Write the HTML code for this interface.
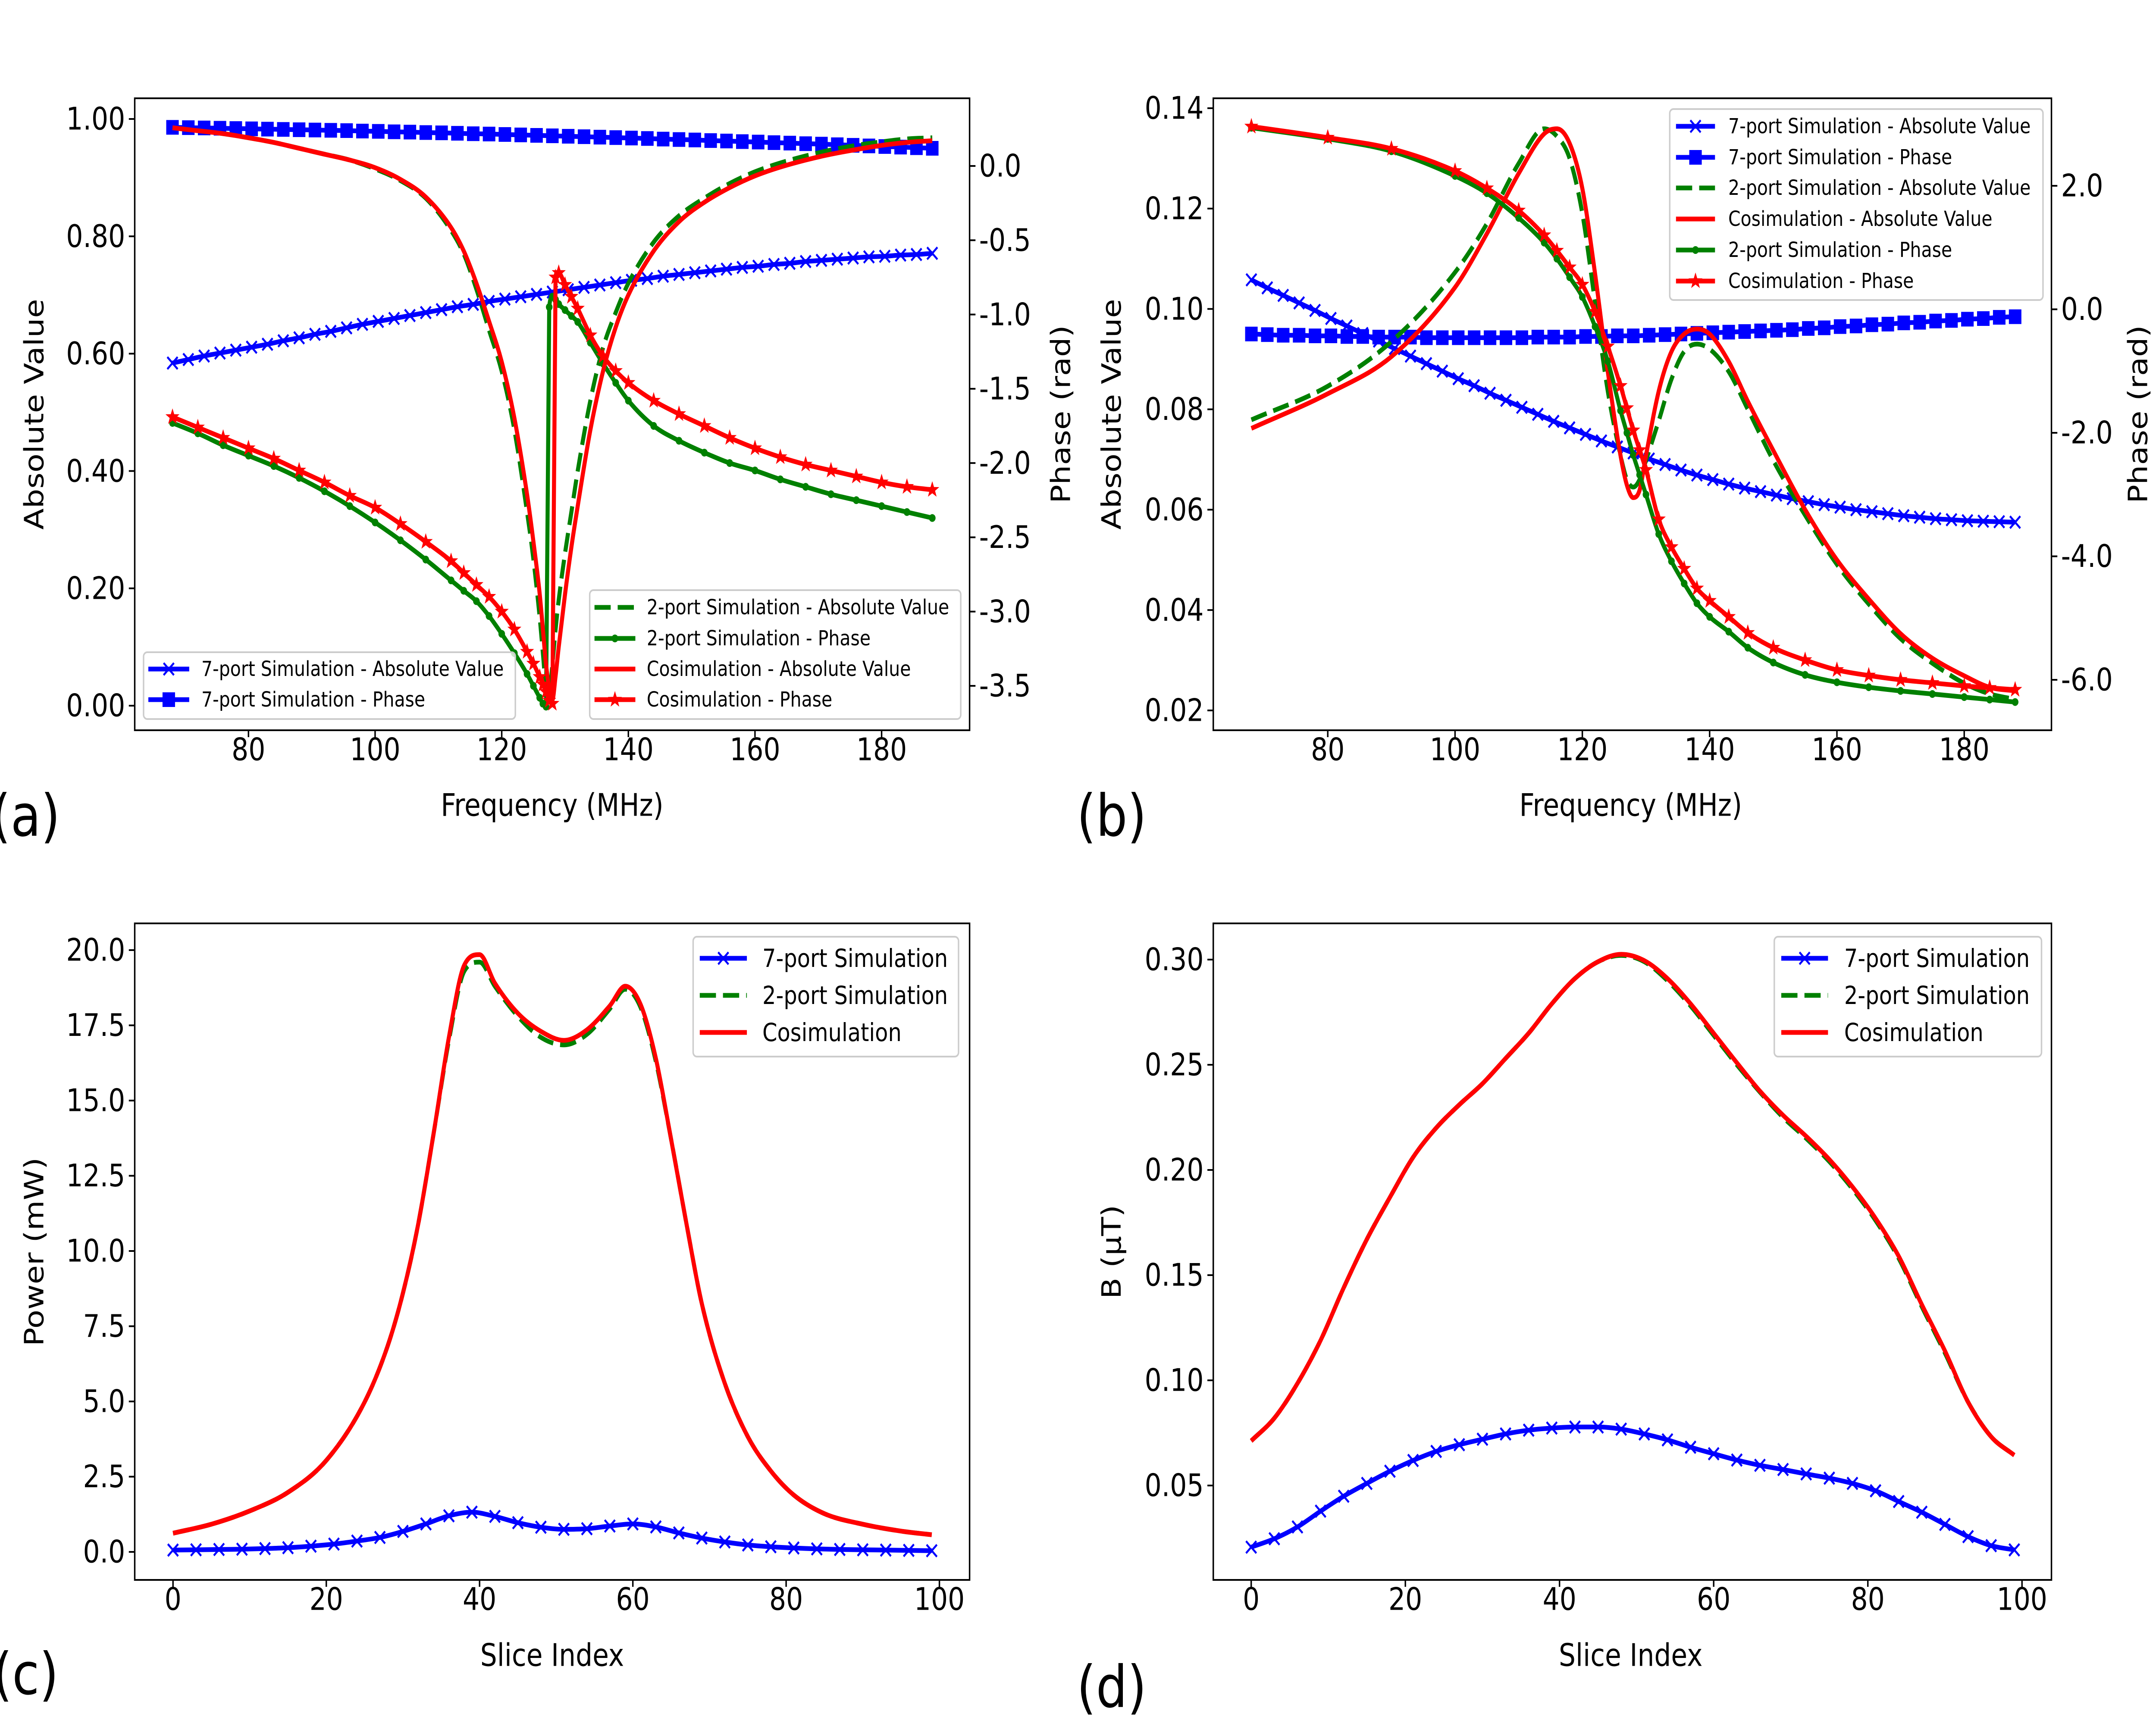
<!DOCTYPE html>
<html><head><meta charset="utf-8"><style>
html,body{margin:0;padding:0;background:#fff;overflow:hidden;width:100%;height:100%;}
svg{display:block;font-family:"DejaVu Sans","Liberation Sans",sans-serif;width:100vw;height:100vh;}
</style></head><body>
<svg id="fig" xmlns="http://www.w3.org/2000/svg" viewBox="0 0 5857 3983" preserveAspectRatio="none"></svg>
<script>
// ---------- Panel (a) data ----------
const f7 = [68,70.5,73,75.5,78,80.5,83,85.5,88,90.5,93,95.5,98,100.5,103,105.5,108,110.5,113,115.5,118,120.5,123,125.5,128,130.5,133,135.5,138,140.5,143,145.5,148,150.5,153,155.5,158,160.5,163,165.5,168,170.5,173,175.5,178,180.5,183,185.5,188];
const a7abs = [0.584,0.590,0.596,0.601,0.606,0.611,0.616,0.622,0.627,0.633,0.638,0.644,0.650,0.655,0.660,0.665,0.670,0.675,0.680,0.684,0.689,0.693,0.697,0.701,0.705,0.709,0.713,0.717,0.721,0.725,0.728,0.732,0.735,0.738,0.741,0.744,0.747,0.749,0.752,0.754,0.757,0.759,0.761,0.763,0.765,0.766,0.768,0.769,0.771];
const a7ph = [0.26,0.258,0.256,0.254,0.252,0.25,0.248,0.246,0.244,0.242,0.240,0.238,0.235,0.233,0.230,0.228,0.225,0.223,0.220,0.217,0.215,0.212,0.209,0.206,0.203,0.200,0.197,0.194,0.191,0.188,0.185,0.181,0.178,0.175,0.171,0.168,0.164,0.161,0.157,0.154,0.150,0.147,0.143,0.139,0.135,0.131,0.127,0.123,0.119];
const fA = [68,72,76,80,84,88,92,96,100,104,108,112,114,116,118,120,122,124,125,126,126.5,127,127.5,128,128.5,129,130,131,132,134,136,138,140,144,148,152,156,160,164,168,172,176,180,184,188];
const aAbs2 = [0.985,0.98,0.975,0.968,0.96,0.95,0.94,0.93,0.915,0.895,0.865,0.81,0.77,0.71,0.64,0.57,0.47,0.33,0.25,0.15,0.09,0.03,0.02,0.07,0.13,0.18,0.26,0.33,0.40,0.52,0.61,0.67,0.72,0.79,0.835,0.865,0.89,0.91,0.925,0.937,0.947,0.955,0.961,0.966,0.968];
const aAbsC = [0.985,0.98,0.975,0.968,0.96,0.95,0.94,0.93,0.917,0.897,0.867,0.815,0.775,0.72,0.655,0.586,0.49,0.36,0.28,0.19,0.13,0.07,0.03,0.01,0.05,0.10,0.19,0.27,0.34,0.47,0.57,0.645,0.70,0.775,0.825,0.858,0.883,0.903,0.918,0.93,0.94,0.948,0.955,0.96,0.963];
const aPh2 = [-1.73,-1.80,-1.88,-1.95,-2.02,-2.10,-2.19,-2.29,-2.40,-2.52,-2.65,-2.79,-2.86,-2.93,-3.03,-3.15,-3.28,-3.42,-3.50,-3.58,-3.62,-3.64,-0.95,-0.88,-0.90,-0.93,-0.97,-1.01,-1.05,-1.19,-1.33,-1.46,-1.58,-1.75,-1.85,-1.93,-2.00,-2.05,-2.11,-2.16,-2.21,-2.25,-2.29,-2.33,-2.37];
const aPhC = [-1.69,-1.76,-1.83,-1.90,-1.97,-2.05,-2.13,-2.22,-2.30,-2.41,-2.53,-2.66,-2.74,-2.82,-2.90,-3.00,-3.12,-3.27,-3.35,-3.44,-3.49,-3.54,-3.60,-3.62,-0.75,-0.72,-0.80,-0.88,-0.96,-1.14,-1.28,-1.38,-1.46,-1.58,-1.67,-1.75,-1.83,-1.90,-1.96,-2.01,-2.05,-2.09,-2.13,-2.16,-2.18];
const aLeftTicks = [0,0.2,0.4,0.6,0.8,1.0];
const aRightTicks = [0,-0.5,-1.0,-1.5,-2.0,-2.5,-3.0,-3.5];
const freqTicks = [80,100,120,140,160,180];
// ---------- Panel (b) data ----------
const b7abs = [0.1058,0.1042,0.1027,0.1012,0.0997,0.0981,0.0966,0.0951,0.0936,0.0921,0.0906,0.0891,0.0876,0.0861,0.0847,0.0832,0.0818,0.0804,0.0790,0.0776,0.0763,0.0750,0.0737,0.0725,0.0713,0.0701,0.0690,0.0679,0.0669,0.0660,0.0651,0.0643,0.0636,0.0629,0.0622,0.0616,0.0610,0.0605,0.0600,0.0596,0.0592,0.0588,0.0585,0.0582,0.0580,0.0578,0.0577,0.0576,0.0575];
const b7ph = [-0.40,-0.41,-0.42,-0.42,-0.43,-0.43,-0.44,-0.44,-0.45,-0.45,-0.45,-0.46,-0.46,-0.46,-0.46,-0.46,-0.46,-0.46,-0.45,-0.45,-0.45,-0.44,-0.44,-0.43,-0.43,-0.42,-0.41,-0.40,-0.39,-0.38,-0.37,-0.36,-0.35,-0.34,-0.33,-0.31,-0.30,-0.28,-0.27,-0.25,-0.24,-0.22,-0.21,-0.19,-0.18,-0.16,-0.15,-0.13,-0.12];
const fB = [68,80,90,100,105,110,114,116,118,120,122,124,126,127,128,129,130,132,134,136,138,140,143,146,150,155,160,165,170,175,180,184,188];
const bAbs2 = [0.0779,0.0846,0.0935,0.1073,0.117,0.129,0.1359,0.1344,0.130,0.119,0.1013,0.0836,0.0708,0.066,0.0645,0.066,0.0698,0.0777,0.086,0.0915,0.093,0.092,0.0875,0.0800,0.0698,0.0589,0.0491,0.0412,0.0343,0.0294,0.0254,0.0233,0.0222];
const bAbsC = [0.0762,0.0831,0.0905,0.1043,0.115,0.127,0.1349,0.1359,0.133,0.124,0.107,0.0875,0.0708,0.0649,0.0624,0.0639,0.0708,0.0836,0.0915,0.095,0.096,0.095,0.0895,0.0816,0.0718,0.060,0.050,0.0422,0.0353,0.0304,0.0269,0.0246,0.0239];
const bPh2 = [2.94,2.76,2.56,2.16,1.88,1.48,1.08,0.82,0.52,0.2,-0.28,-0.84,-1.64,-2.0,-2.36,-2.68,-3.0,-3.64,-4.08,-4.44,-4.76,-4.98,-5.22,-5.48,-5.72,-5.92,-6.04,-6.12,-6.18,-6.23,-6.28,-6.32,-6.36];
const bPhC = [2.96,2.78,2.6,2.24,1.96,1.6,1.2,0.95,0.68,0.4,-0.04,-0.6,-1.24,-1.6,-1.96,-2.28,-2.6,-3.4,-3.85,-4.2,-4.52,-4.72,-4.98,-5.24,-5.48,-5.68,-5.84,-5.93,-6.0,-6.05,-6.1,-6.13,-6.16];
const bLeftTicks = [0.02,0.04,0.06,0.08,0.10,0.12,0.14];
const bRightTicks = [2,0,-2,-4,-6];
// ---------- Panel (c) data ----------
const sC = [0,5,10,15,20,25,28,30,32,34,36,38,40,42,45,48,51,54,57,59,61,63,65,67,69,72,75,78,81,85,90,95,99];
const cCos = [0.62,0.92,1.36,1.98,3.04,4.98,6.84,8.6,10.9,13.9,17.1,19.5,19.85,18.9,17.9,17.3,17.0,17.35,18.15,18.8,18.2,16.4,13.7,10.9,8.25,5.6,3.83,2.69,1.89,1.27,0.92,0.69,0.57];
const c2 = [0.62,0.92,1.36,1.98,3.04,4.98,6.84,8.6,10.9,13.9,17.0,19.3,19.6,18.8,17.8,17.1,16.85,17.2,18.05,18.7,18.1,16.3,13.7,10.9,8.25,5.6,3.83,2.69,1.89,1.27,0.92,0.69,0.57];
const s3 = [0,3,6,9,12,15,18,21,24,27,30,33,36,39,42,45,48,51,54,57,60,63,66,69,72,75,78,81,84,87,90,93,96,99];
const c7 = [0.06,0.07,0.08,0.09,0.11,0.14,0.19,0.26,0.36,0.48,0.68,0.93,1.2,1.32,1.18,0.97,0.82,0.75,0.77,0.86,0.93,0.83,0.63,0.46,0.33,0.23,0.17,0.13,0.10,0.08,0.07,0.06,0.05,0.04];
const cTicks = [0,2.5,5,7.5,10,12.5,15,17.5,20];
const sliceTicks = [0,20,40,60,80,100];
// ---------- Panel (d) data ----------
const dCos = [0.0712,0.082,0.0985,0.119,0.144,0.167,0.187,0.206,0.22,0.231,0.241,0.253,0.265,0.279,0.291,0.299,0.3025,0.2995,0.291,0.279,0.265,0.251,0.2375,0.226,0.216,0.205,0.192,0.177,0.159,0.136,0.114,0.0897,0.0732,0.0644];
const d2 = [0.0712,0.082,0.0985,0.119,0.144,0.167,0.187,0.206,0.22,0.231,0.241,0.253,0.265,0.279,0.291,0.299,0.302,0.299,0.290,0.278,0.264,0.250,0.237,0.225,0.215,0.204,0.191,0.176,0.158,0.135,0.113,0.0897,0.0732,0.0644];
const d7 = [0.0207,0.0247,0.0303,0.0378,0.0449,0.051,0.0568,0.0619,0.0662,0.0694,0.072,0.0745,0.0763,0.0773,0.0778,0.0778,0.0768,0.0745,0.0717,0.0682,0.0651,0.0621,0.0596,0.0576,0.0555,0.0535,0.051,0.0475,0.0424,0.0373,0.0315,0.0257,0.0214,0.0194];
const dTicks = [0.05,0.10,0.15,0.20,0.25,0.30];

const NS = "http://www.w3.org/2000/svg";
const svg = document.getElementById('fig');
const BLUE = "#0000ff", GREEN = "#008000", RED = "#ff0000";
function el(tag, attrs, parent){
  const e = document.createElementNS(NS, tag);
  for (const k in attrs) e.setAttribute(k, attrs[k]);
  (parent || svg).appendChild(e);
  return e;
}
function lin(d0,d1,r0,r1){ return v => r0 + (v-d0)*(r1-r0)/(d1-d0); }
function monoPath(P){
  const n = P.length; if (n < 2) return "";
  const dx=[], m=[];
  for (let i=0;i<n-1;i++){ dx.push(P[i+1][0]-P[i][0]); m.push((P[i+1][1]-P[i][1])/dx[i]); }
  const t = new Array(n);
  t[0]=m[0]; t[n-1]=m[n-2];
  for (let i=1;i<n-1;i++){ t[i] = (m[i-1]*m[i] <= 0) ? 0 : (m[i-1]+m[i])/2; }
  for (let i=0;i<n-1;i++){
    if (m[i]===0){ t[i]=0; t[i+1]=0; continue; }
    const a=t[i]/m[i], b=t[i+1]/m[i], s=a*a+b*b;
    if (s>9){ const k=3/Math.sqrt(s); t[i]=k*a*m[i]; t[i+1]=k*b*m[i]; }
  }
  let d = "M"+P[0][0].toFixed(1)+","+P[0][1].toFixed(1);
  for (let i=0;i<n-1;i++){
    const h=dx[i];
    d += "C"+(P[i][0]+h/3).toFixed(1)+","+(P[i][1]+t[i]*h/3).toFixed(1)+" "+(P[i+1][0]-h/3).toFixed(1)+","+(P[i+1][1]-t[i+1]*h/3).toFixed(1)+" "+P[i+1][0].toFixed(1)+","+P[i+1][1].toFixed(1);
  }
  return d;
}
function marker(g, type, x, y, color){
  let m;
  if (type==='x'){
    m = el('path',{d:`M${x-14},${y-14}L${x+14},${y+14}M${x-14},${y+14}L${x+14},${y-14}`,stroke:color,'stroke-width':5,fill:'none'},g);
  } else if (type==='s'){
    m = el('rect',{x:x-17,y:y-17,width:34,height:34,fill:color},g);
  } else if (type==='o'){
    m = el('circle',{cx:x,cy:y,r:9,fill:color},g);
  } else if (type==='*'){
    let pts=[]; for(let k=0;k<10;k++){ const r=(k%2===0)?20:8; const a=-Math.PI/2+k*Math.PI/5; pts.push((x+r*Math.cos(a)).toFixed(1)+","+(y+r*Math.sin(a)).toFixed(1)); }
    m = el('polygon',{points:pts.join(' '),fill:color},g);
  }
  return m;
}
function series(g, xs, ys, X, Y, color, dashed, mk, name){
  const P = [];
  const n = Math.min(xs.length, ys.length);
  for (let i=0;i<n;i++) P.push([X(xs[i]), Y(ys[i])]);
  const sg = el('g',{},g);
  
  
  const attrs = {d:monoPath(P),fill:'none',stroke:color,'stroke-width':11,'stroke-linejoin':'round'};
  if (dashed){ attrs['stroke-dasharray']='44,19'; }
  el('path',attrs,sg);
  if (mk){ for (const p of P){ const m = marker(sg, mk, p[0], p[1], color);
    
     } }
}
function txt(s, attrs, parent){ const t = el('text', attrs, parent); t.textContent = s; return t; }
function frame(name, L, T, R, B){
  const g = el('g',{});
  
  
  const cid = name+'-clip';
  const cp = el('clipPath',{id:cid},g); el('rect',{x:L,y:T,width:R-L,height:B-T},cp);
  const plot = el('g',{'clip-path':`url(#${cid})`},g);
  return {g, plot};
}
function border(g, L,T,R,B){
  const r = el('rect',{x:L,y:T,width:R-L,height:B-T,fill:'none',stroke:'#000','stroke-width':4},g);
  
  
}
function yTicks(g, ticks, Y, xEdge, side, fmt, name){
  const ax = el('g',{},g);
  
  
  for (const v of ticks){
    const y = Y(v);
    const dir = side==='left' ? -1 : 1;
    el('line',{x1:xEdge,y1:y,x2:xEdge+dir*16,y2:y,stroke:'#000','stroke-width':4},ax);
    const t = txt(fmt(v),{x:xEdge+dir*26,y:y,'font-size':72,'text-anchor':side==='left'?'end':'start','dominant-baseline':'central'},ax);
    
    
  }
}
function xTicks(g, ticks, X, yEdge, name){
  const ax = el('g',{},g);
  
  
  for (const v of ticks){
    const x = X(v);
    el('line',{x1:x,y1:yEdge,x2:x,y2:yEdge+16,stroke:'#000','stroke-width':4},ax);
    const t = txt(String(v),{x:x,y:yEdge+45,'font-size':72,'text-anchor':'middle','dominant-baseline':'central'},ax);
    
    
  }
}
function vLabel(g, s, x, y, name){
  const t = txt(s,{x:x,y:y,'font-size':72,'text-anchor':'middle','dominant-baseline':'central',transform:`rotate(-90 ${x} ${y})`},g);
  
  
}
function hLabel(g, s, x, y, name, size){
  const t = txt(s,{x:x,y:y,'font-size':size||72,'text-anchor':'middle','dominant-baseline':'central'},g);
  
  
}
function legend(g, name, L, T, R, B, rows, lineX0, lineX1, textX, fs){
  const lg = el('g',{},g);
  
  
  el('rect',{x:L,y:T,width:R-L,height:B-T,rx:10,fill:'#fff','fill-opacity':0.8,stroke:'#cccccc','stroke-width':4},lg);
  for (const r of rows){
    const eg = el('g',{},lg);
    
    
    const a = {x1:lineX0,y1:r.y,x2:lineX1,y2:r.y,stroke:r.c,'stroke-width':11};
    if (r.dash) a['stroke-dasharray']='44,19';
    el('line',a,eg);
    if (r.mk) marker(eg, r.mk, (lineX0+lineX1)/2, r.y, r.c);
    txt(r.t,{x:textX,y:r.y,'font-size':fs,'dominant-baseline':'central'},eg);
  }
}
const fmt2 = v => v.toFixed(2), fmt1 = v => v.toFixed(1);

// ===== Panel (a) =====
(function(){
  const L=366,T=228,R=2634,B=1694;
  const X = lin(80,180,675,2395), YL = lin(0,1,1637,276), YR = lin(0,-3.5,385,1591);
  const {g, plot} = frame('panel-a', L,T,R,B);
  series(plot, f7, a7abs, X, YL, BLUE, false, 'x', '7port-absolute-a');
  series(plot, f7, a7ph, X, YR, BLUE, false, 's', '7port-phase-a');
  series(plot, fA, aAbs2, X, YL, GREEN, true, null, '2port-absolute-a');
  series(plot, fA, aPh2, X, YR, GREEN, false, 'o', '2port-phase-a');
  series(plot, fA, aAbsC, X, YL, RED, false, null, 'cosim-absolute-a');
  series(plot, fA, aPhC, X, YR, RED, false, '*', 'cosim-phase-a');
  border(g,L,T,R,B);
  yTicks(g, aLeftTicks, YL, L, 'left', fmt2, 'y-axis-left-a');
  yTicks(g, aRightTicks, YR, R, 'right', fmt1, 'y-axis-right-a');
  xTicks(g, freqTicks, X, B, 'x-axis-a');
  vLabel(g, 'Absolute Value', 93, 961, 'y-axis-title-a');
  vLabel(g, 'Phase (rad)', 2882, 961, 'y2-axis-title-a');
  hLabel(g, 'Frequency (MHz)', 1500, 1868, 'x-axis-title-a');
  legend(g,'legend-a-left',390,1513,1400,1668,[
    {y:1552,c:BLUE,mk:'x',t:'7-port Simulation - Absolute Value'},
    {y:1623,c:BLUE,mk:'s',t:'7-port Simulation - Phase'}],403,514,547,48);
  legend(g,'legend-a-right',1602,1369,2610,1668,[
    {y:1409,c:GREEN,dash:true,t:'2-port Simulation - Absolute Value'},
    {y:1481,c:GREEN,mk:'o',t:'2-port Simulation - Phase'},
    {y:1552,c:RED,t:'Cosimulation - Absolute Value'},
    {y:1623,c:RED,mk:'*',t:'Cosimulation - Phase'}],1615,1726,1757,48);
  hLabel(g, '(a)', 70, 1893, 'panel-label-a', 134);
})();

// ===== Panel (b) =====
(function(){
  const L=3296,T=228,R=5573,B=1694;
  const X = lin(80,180,3607,5336), YL = lin(0.02,0.14,1648,251), YR = lin(2,-6,431,1577);
  const {g, plot} = frame('panel-b', L,T,R,B);
  series(plot, f7, b7abs, X, YL, BLUE, false, 'x', '7port-absolute-b');
  series(plot, f7, b7ph, X, YR, BLUE, false, 's', '7port-phase-b');
  series(plot, fB, bAbs2, X, YL, GREEN, true, null, '2port-absolute-b');
  series(plot, fB, bAbsC, X, YL, RED, false, null, 'cosim-absolute-b');
  series(plot, fB, bPh2, X, YR, GREEN, false, 'o', '2port-phase-b');
  series(plot, fB, bPhC, X, YR, RED, false, '*', 'cosim-phase-b');
  border(g,L,T,R,B);
  yTicks(g, bLeftTicks, YL, L, 'left', fmt2, 'y-axis-left-b');
  yTicks(g, bRightTicks, YR, R, 'right', fmt1, 'y-axis-right-b');
  xTicks(g, freqTicks, X, B, 'x-axis-b');
  vLabel(g, 'Absolute Value', 3020, 961, 'y-axis-title-b');
  vLabel(g, 'Phase (rad)', 5808, 961, 'y2-axis-title-b');
  hLabel(g, 'Frequency (MHz)', 4430, 1868, 'x-axis-title-b');
  legend(g,'legend-b',4536,253,5550,696,[
    {y:293,c:BLUE,mk:'x',t:'7-port Simulation - Absolute Value'},
    {y:365,c:BLUE,mk:'s',t:'7-port Simulation - Phase'},
    {y:436,c:GREEN,dash:true,t:'2-port Simulation - Absolute Value'},
    {y:508,c:RED,t:'Cosimulation - Absolute Value'},
    {y:580,c:GREEN,mk:'o',t:'2-port Simulation - Phase'},
    {y:652,c:RED,mk:'*',t:'Cosimulation - Phase'}],4553,4659,4695,48);
  hLabel(g, '(b)', 3020, 1893, 'panel-label-b', 134);
})();

// ===== Panel (c) =====
(function(){
  const L=366,T=2142,R=2634,B=3665;
  const X = lin(0,100,470,2552), Y = lin(0,20,3600,2204);
  const {g, plot} = frame('panel-c', L,T,R,B);
  series(plot, s3, c7, X, Y, BLUE, false, 'x', '7port-power');
  series(plot, sC, c2, X, Y, GREEN, true, null, '2port-power');
  series(plot, sC, cCos, X, Y, RED, false, null, 'cosim-power');
  border(g,L,T,R,B);
  yTicks(g, cTicks, Y, L, 'left', fmt1, 'y-axis-c');
  xTicks(g, sliceTicks, X, B, 'x-axis-c');
  vLabel(g, 'Power (mW)', 93, 2904, 'y-axis-title-c');
  hLabel(g, 'Slice Index', 1500, 3840, 'x-axis-title-c');
  legend(g,'legend-c',1883,2173,2604,2451,[
    {y:2223,c:BLUE,mk:'x',t:'7-port Simulation'},
    {y:2309,c:GREEN,dash:true,t:'2-port Simulation'},
    {y:2395,c:RED,t:'Cosimulation'}],1901,2029,2071,58);
  hLabel(g, '(c)', 70, 3884, 'panel-label-c', 134);
})();

// ===== Panel (d) =====
(function(){
  const L=3296,T=2142,R=5573,B=3665;
  const X = lin(0,100,3399,5493), Y = lin(0.05,0.30,3446,2226);
  const {g, plot} = frame('panel-d', L,T,R,B);
  series(plot, s3, d7, X, Y, BLUE, false, 'x', '7port-bfield');
  series(plot, s3, d2, X, Y, GREEN, true, null, '2port-bfield');
  series(plot, s3, dCos, X, Y, RED, false, null, 'cosim-bfield');
  border(g,L,T,R,B);
  yTicks(g, dTicks, Y, L, 'left', fmt2, 'y-axis-d');
  xTicks(g, sliceTicks, X, B, 'x-axis-d');
  vLabel(g, 'B (\u03BCT)', 3020, 2904, 'y-axis-title-d');
  hLabel(g, 'Slice Index', 4430, 3840, 'x-axis-title-d');
  legend(g,'legend-d',4820,2173,5546,2451,[
    {y:2223,c:BLUE,mk:'x',t:'7-port Simulation'},
    {y:2309,c:GREEN,dash:true,t:'2-port Simulation'},
    {y:2395,c:RED,t:'Cosimulation'}],4839,4966,5010,58);
  hLabel(g, '(d)', 3020, 3914, 'panel-label-d', 134);
})();
</script>
</body></html>
